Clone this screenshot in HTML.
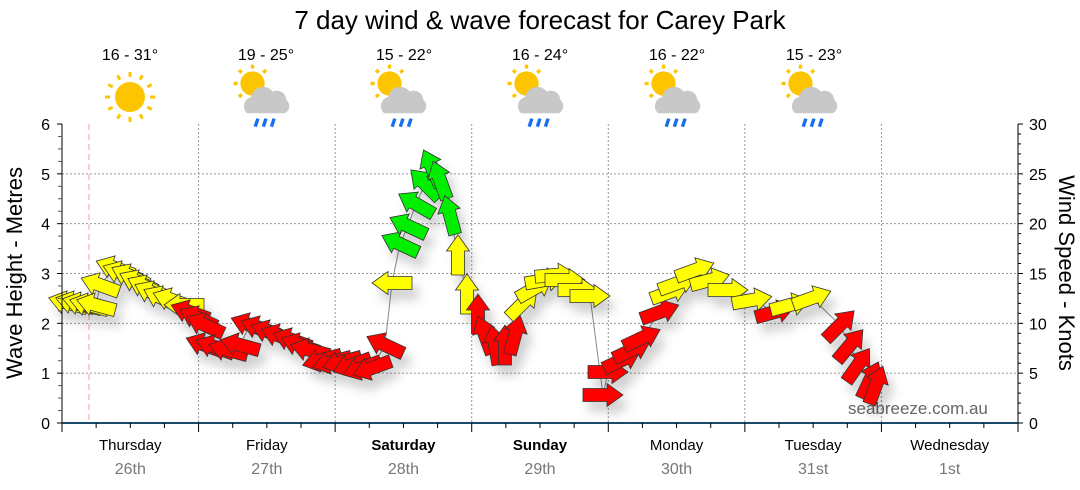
<!DOCTYPE html>
<html><head><meta charset="utf-8"><style>
body{margin:0;background:#fff;width:1080px;height:490px;overflow:hidden}
svg{display:block;font-family:"Liberation Sans","DejaVu Sans",sans-serif}
</style></head><body>
<svg id="s" width="1080" height="490" xmlns="http://www.w3.org/2000/svg">
<defs>
<filter id="sh" x="-50%" y="-50%" width="200%" height="200%"><feDropShadow dx="6" dy="10" stdDeviation="5" flood-color="#000" flood-opacity="0.18"/></filter>
<g id="cloud"><circle cx="-10" cy="-10" r="9" fill="#fdc500"/>
<g stroke="#fdc500" stroke-width="2.5"><line x1="-10" y1="-24" x2="-10" y2="-21"/><line x1="-24" y1="-10" x2="-21" y2="-10"/><line x1="-20" y1="-20" x2="-18" y2="-18"/><line x1="0" y1="-20" x2="-2" y2="-18"/><line x1="-20" y1="0" x2="-18" y2="-2"/></g>
<path d="M-14,12 a7,7 0 0 1 3,-12 a9,9 0 0 1 16,-4 a7,7 0 0 1 10,6 a6,6 0 0 1 -1,10 z" fill="#c8c8c8"/>
<g stroke="#1a6ff0" stroke-width="2.5"><line x1="-6" y1="16" x2="-8" y2="22"/><line x1="0" y1="16" x2="-2" y2="22"/><line x1="6" y1="16" x2="4" y2="22"/></g></g>
</defs>
<text x="540" y="29" font-size="26" text-anchor="middle">7 day wind &amp; wave forecast for Carey Park</text>
<g font-size="16" text-anchor="middle">
<text x="130" y="60">16 - 31°</text><text x="266" y="60">19 - 25°</text><text x="404" y="60">15 - 22°</text><text x="540" y="60">16 - 24°</text><text x="677" y="60">16 - 22°</text><text x="814" y="60">15 - 23°</text></g>
<g transform="translate(130,97)"><circle r="15" fill="#fdc500"/><g stroke="#fdc500" stroke-width="3" id="rays"></g></g>
<use href="#cloud" transform="translate(266,97) scale(1.35)"/><use href="#cloud" transform="translate(403,97) scale(1.35)"/><use href="#cloud" transform="translate(540,97) scale(1.35)"/><use href="#cloud" transform="translate(677,97) scale(1.35)"/><use href="#cloud" transform="translate(814,97) scale(1.35)"/>
<g id="grid"></g>
<line x1="89" y1="124" x2="89" y2="423" stroke="#f0a0a0" stroke-dasharray="6,4"/>
<text x="848" y="414" font-size="17" fill="#666">seabreeze.com.au</text>
<g id="arrows"></g>
<g id="axes"></g>
<text transform="translate(22,273) rotate(-90)" font-size="22" text-anchor="middle">Wave Height - Metres</text>
<text transform="translate(1059,273) rotate(90)" font-size="22" text-anchor="middle">Wind Speed - Knots</text>
</svg>
<script>
var NS="http://www.w3.org/2000/svg";
function el(p,t,a,txt){var e=document.createElementNS(NS,t);for(var k in a)e.setAttribute(k,a[k]);if(txt!=null)e.textContent=txt;p.appendChild(e);return e;}
var rays=document.getElementById('rays');
for(var i=0;i<12;i++){var a=i*Math.PI/6;el(rays,'line',{x1:20*Math.cos(a),y1:20*Math.sin(a),x2:25*Math.cos(a),y2:25*Math.sin(a)});}
var g=document.getElementById('grid'),ax=document.getElementById('axes');
var L=62,R=1018,T=124,B=423,dw=(R-L)/7;
for(var m=1;m<=5;m++){var y=B-m*(B-T)/6;el(g,'line',{x1:L,y1:y,x2:R,y2:y,stroke:'#999','stroke-dasharray':'2,2'});}
for(var d=1;d<7;d++){var x=L+d*dw;el(g,'line',{x1:x,y1:T,x2:x,y2:B,stroke:'#999','stroke-dasharray':'2,2'});}
el(ax,'line',{x1:L,y1:T,x2:L,y2:B,stroke:'#000'});
el(ax,'line',{x1:R,y1:T,x2:R,y2:B,stroke:'#000'});
el(ax,'line',{x1:L,y1:B,x2:R,y2:B,stroke:'#1a4a6a','stroke-width':2});
for(var i=0;i<=24;i++){var y=B-i*(B-T)/24;var mj=i%4==0;el(ax,'line',{x1:L-(mj?5:4),y1:y,x2:L,y2:y,stroke:mj?'#000':'#555'});if(mj)el(ax,'text',{x:50,y:y+6,'font-size':16,'text-anchor':'end'},i/4);}
for(var i=0;i<=30;i++){var y=B-i*(B-T)/30;var mj=i%5==0;el(ax,'line',{x1:R,y1:y,x2:R+(mj?5:3),y2:y,stroke:'#000'});if(mj)el(ax,'text',{x:1029,y:y+6,'font-size':16},i);}
var days=["Thursday","Friday","Saturday","Sunday","Monday","Tuesday","Wednesday"],dates=["26th","27th","28th","29th","30th","31st","1st"];
for(var i=0;i<=28;i++){var x=L+i*dw/4;var mj=i%4==0;el(ax,'line',{x1:x,y1:B,x2:x,y2:B+(mj?9:5),stroke:'#000'});}
for(var d=0;d<7;d++){var cx=L+(d+0.5)*dw;var b=(d==2||d==3);el(ax,'text',{x:cx,y:450,'font-size':15,'text-anchor':'middle','font-weight':b?'bold':'normal'},days[d]);el(ax,'text',{x:cx,y:474,'font-size':16,'text-anchor':'middle',fill:'#777'},dates[d]);}
var Y='#ffff00',Rd='#ff0000',G='#00ee00';
var A=[
[68,303,195,Y],[75,303,195,Y],[82,304,195,Y],[89,305,195,Y],[96,305,195,Y],[100,285,200,Y],
[115,268,200,Y],[122,273,200,Y],[130,276,205,Y],[138,282,205,Y],[146,287,205,Y],[153,293,205,Y],[162,298,205,Y],[172,300,200,Y],[184,305,180,Y],
[190,312,200,Rd],[198,318,205,Rd],[205,325,205,Rd],[205,345,200,Rd],[215,347,200,Rd],[228,350,195,Rd],[240,345,195,Rd],
[250,325,200,Rd],[260,328,200,Rd],[270,332,200,Rd],[280,336,200,Rd],[292,340,200,Rd],[300,345,200,Rd],[310,350,195,Rd],
[322,360,165,Rd],[332,362,165,Rd],[342,362,165,Rd],[352,365,160,Rd],[362,368,160,Rd],[372,368,160,Rd],[385,345,205,Rd],
[392,283,180,Y],[400,244,205,G],[408,226,205,G],[416,204,210,G],[425,184,225,G],[432,168,245,G],[440,180,250,G],[450,215,255,G],
[458,255,270,Y],[467,294,270,Y],[478,314,270,Rd],[485,335,250,Rd],[495,345,260,Rd],[505,345,270,Rd],[515,335,285,Rd],
[523,303,-45,Y],[535,288,-30,Y],[545,280,-10,Y],[555,275,-5,Y],[565,280,0,Y],[578,290,0,Y],[590,296,0,Y],
[603,395,0,Rd],[608,372,0,Rd],[622,360,-25,Rd],[632,350,-25,Rd],[642,338,-25,Rd],[660,312,-20,Rd],
[670,292,-20,Y],[678,283,-20,Y],[695,270,-20,Y],[710,280,-15,Y],[728,290,0,Y],[752,300,-10,Y],[775,312,-15,Rd],[790,305,-15,Y],[812,298,-20,Y],
[840,325,-45,Rd],[850,345,-50,Rd],[858,365,-55,Rd],[870,380,-65,Rd],[876,385,-70,Rd]];
var ag=document.getElementById('arrows');
var pts=A.map(function(a){return a[0]+','+a[1]}).join(' ');
el(ag,'polyline',{points:pts,fill:'none',stroke:'#888','stroke-width':1});
var sg=el(ag,'g',{filter:'url(#sh)'});
A.forEach(function(a){el(sg,'polygon',{points:'-20,-6.5 4,-6.5 4,-11.5 20,0 4,11.5 4,6.5 -20,6.5',fill:a[3],stroke:'#333','stroke-width':0.8,transform:'translate('+a[0]+','+a[1]+') rotate('+a[2]+')'});});
</script>
</body></html>
